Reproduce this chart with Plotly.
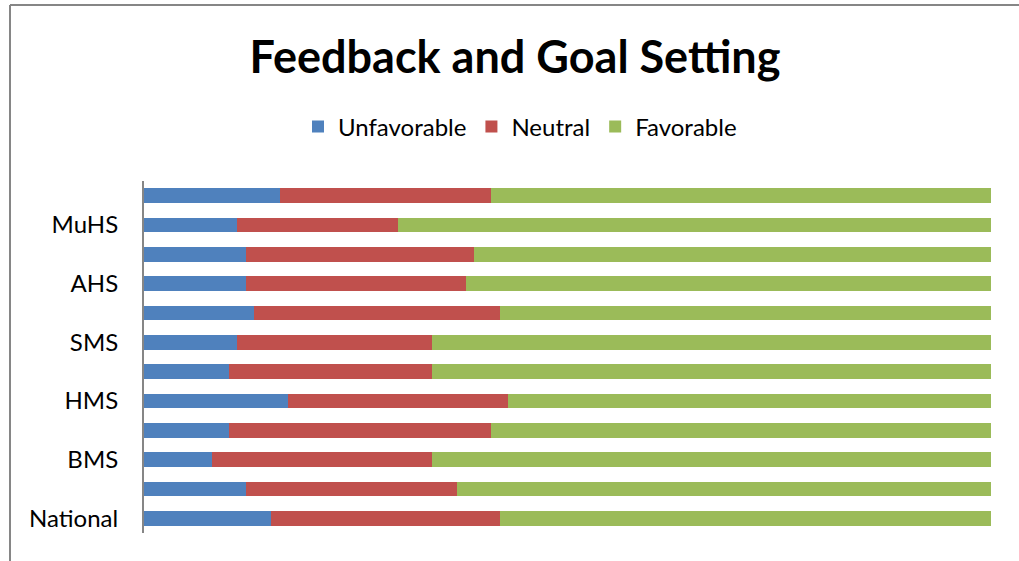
import plotly.graph_objects as go

# bottom to top, as drawn
categories = ["National", "", "BMS", "", "HMS", "", "SMS", "", "AHS", "", "MuHS", ""]
unfavorable = [15, 12, 8, 10, 17, 10, 11, 13, 12, 12, 11, 16]
neutral = [27, 25, 26, 31, 26, 24, 23, 29, 26, 27, 19, 25]
favorable = [58, 63, 66, 59, 57, 66, 66, 58, 62, 61, 70, 59]

_FONT = "Lato, 'Open Sans', sans-serif"
_COLORS = {"Unfavorable": "#4F81BD", "Neutral": "#C0504D", "Favorable": "#9BBB59"}

W, H = 1019, 561
L, R, T, B = 144, 28, 181, 28

pos = list(range(len(categories)))

fig = go.Figure()
for name, vals in [("Unfavorable", unfavorable), ("Neutral", neutral), ("Favorable", favorable)]:
    fig.add_trace(go.Bar(
        x=vals,
        y=pos,
        name=name,
        orientation="h",
        marker=dict(color=_COLORS[name], line=dict(width=0)),
    ))


def px_x(p):
    return (p - L) / (W - L - R)


def px_y(p):
    return (H - B - p) / (H - T - B)


fig.update_layout(
    barmode="stack",
    barnorm="percent",
    bargap=0.49,
    width=W,
    height=H,
    margin=dict(l=L, r=R, t=T, b=B),
    paper_bgcolor="white",
    plot_bgcolor="white",
    font=dict(family=_FONT, size=24, color="#000000"),
    title=dict(
        text="<b>Feedback and Goal Setting</b>",
        font=dict(family=_FONT, size=45, color="#000000"),
        x=515 / W, xanchor="center",
        y=1 - 57 / H, yanchor="middle",
    ),
    legend=dict(
        orientation="h",
        x=px_x(520), xanchor="center",
        y=px_y(127), yanchor="middle",
        font=dict(family=_FONT, size=24),
        traceorder="normal",
        itemwidth=30,
    ),
    xaxis=dict(
        range=[0, 100],
        showticklabels=False,
        showgrid=False,
        zeroline=False,
        showline=False,
        fixedrange=True,
    ),
    yaxis=dict(
        range=[-0.5, len(categories) - 0.5],
        tickvals=[i for i, c in enumerate(categories) if c],
        ticktext=[c for c in categories if c],
        ticks="",
        ticklen=0,
        showgrid=False,
        zeroline=False,
        showline=True,
        linecolor="#868686",
        linewidth=2,
        tickfont=dict(family=_FONT, size=24),
        ticklabelstandoff=19,
    ),
)

# chart frame (top and left edges)
fig.add_shape(type="line", xref="paper", yref="paper",
              x0=px_x(10), x1=px_x(W), y0=px_y(5), y1=px_y(5),
              line=dict(color="#868686", width=2))
fig.add_shape(type="line", xref="paper", yref="paper",
              x0=px_x(10), x1=px_x(10), y0=px_y(5), y1=px_y(H),
              line=dict(color="#868686", width=2))

fig.write_html("out.html", config={"displayModeBar": False},
               post_script="document.body.style.margin='0';")
